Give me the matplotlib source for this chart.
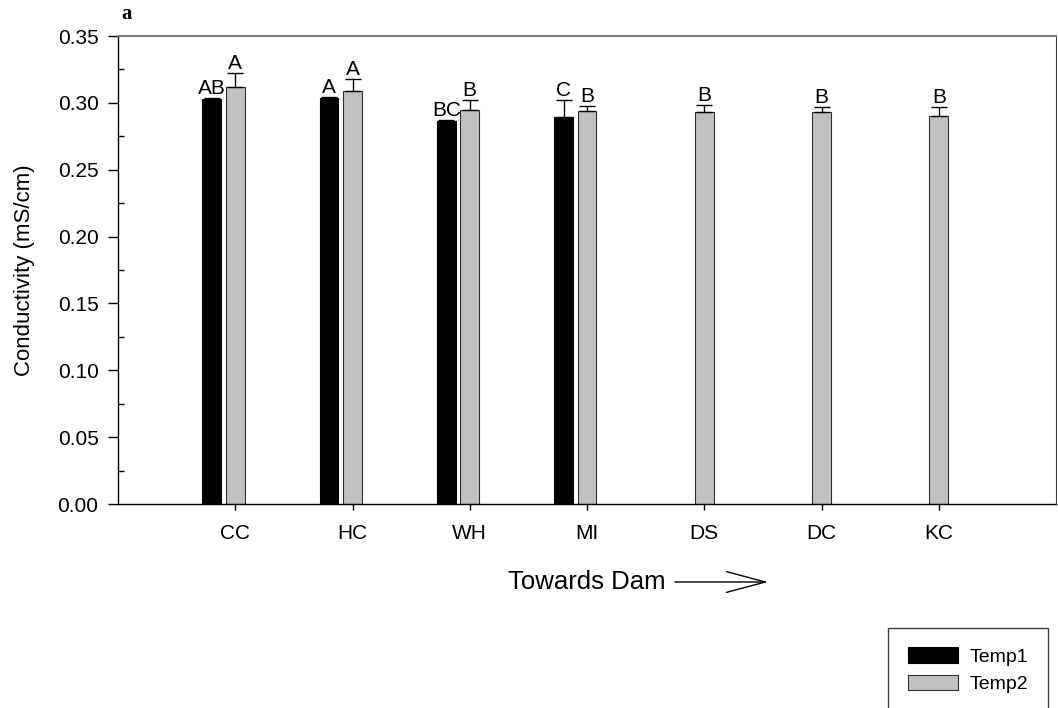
import matplotlib
matplotlib.use('Agg')
from matplotlib import pyplot as plt
from matplotlib.ticker import MultipleLocator
import numpy as np

plt.rcParams['font.family'] = ['Liberation Sans', 'DejaVu Sans']

# data
sites = ['CC', 'HC', 'WH', 'MI', 'DS', 'DC', 'KC']
temp1 = [0.3030, 0.3040, 0.2862, 0.2895]
temp1_err = [0.0010, 0.0003, 0.0013, 0.0130]
temp2 = [0.3117, 0.3092, 0.2945, 0.2937, 0.2930, 0.2933, 0.2905]
temp2_err = [0.0110, 0.0083, 0.0080, 0.0038, 0.0055, 0.0037, 0.0065]
temp1_letters = ['AB', 'A', 'BC', 'C']
temp2_letters = ['A', 'A', 'B', 'B', 'B', 'B', 'B']

W, H = 1058, 708
fig = plt.figure(figsize=(W / 100, H / 100), dpi=100)
ax = fig.add_axes([118 / W, 1 - 504 / H, (1056 - 118) / W, (504 - 36) / H])

x = np.arange(len(sites))
x1 = x[:len(temp1)] - 0.2
width = 0.16

b1 = ax.bar(x1, temp1, width, color='black', edgecolor='black', linewidth=0.8,
            label='Temp1', zorder=2)
b2 = ax.bar(x, temp2, width, color='#c0c0c0', edgecolor='#303030', linewidth=0.8,
            label='Temp2', zorder=2)
ax.errorbar(x1, temp1, yerr=[np.zeros(len(temp1)), temp1_err], fmt='none',
            ecolor='black', elinewidth=1, capsize=6, capthick=1, zorder=3)
ax.errorbar(x, temp2, yerr=[np.zeros(len(temp2)), temp2_err], fmt='none',
            ecolor='black', elinewidth=1, capsize=6, capthick=1, zorder=3)

for xi, v, e, s in zip(x1, temp1, temp1_err, temp1_letters):
    ax.annotate(s, (xi, v + e), xytext=(0, 0), textcoords='offset points',
                ha='center', va='bottom', fontsize=15)
for xi, v, e, s in zip(x, temp2, temp2_err, temp2_letters):
    ax.annotate(s, (xi, v + e), xytext=(0, 0), textcoords='offset points',
                ha='center', va='bottom', fontsize=15)

ax.set_xlim(-1, 7)
ax.set_ylim(0, 0.35)
ax.set_xticks(x)
ax.set_xticklabels(sites)
ax.yaxis.set_major_locator(MultipleLocator(0.05))
ax.yaxis.set_minor_locator(MultipleLocator(0.025))
ax.yaxis.set_major_formatter(matplotlib.ticker.FormatStrFormatter('%.2f'))
ax.tick_params(axis='y', which='major', direction='out', length=7, width=1,
               labelsize=15, pad=7)
ax.tick_params(axis='y', which='minor', direction='in', length=4, width=1)
ax.tick_params(axis='x', which='major', direction='out', length=4.5, width=1,
               labelsize=15, pad=10)
ax.tick_params(axis='x', which='minor', bottom=False)

ax.spines['top'].set_color('#7a7a7a')
ax.spines['top'].set_linewidth(1.5)
ax.spines['right'].set_color('#404040')
for s in ['left', 'bottom']:
    ax.spines[s].set_color('black')
    ax.spines[s].set_linewidth(1)

ax.set_ylabel('Conductivity (mS/cm)', fontsize=16, labelpad=16)
ax.set_xlabel('Towards Dam', fontsize=18.5, labelpad=19)

# arrow after the x label
ax.annotate('', xy=(768 / W, 1 - 582 / H), xytext=(675 / W, 1 - 582 / H),
            xycoords='figure fraction', textcoords='figure fraction',
            arrowprops=dict(arrowstyle='->,head_length=2.8,head_width=0.75',
                            lw=1, color='black', mutation_scale=10,
                            shrinkA=0, shrinkB=0))

fig.text(121 / W, 1 - 14 / H, 'a', fontsize=15, fontweight='bold',
         family='Liberation Serif', ha='left', va='center')

leg = fig.legend(handles=[b1, b2], loc='upper right',
                 bbox_to_anchor=(1048 / W, 1 - 628 / H), fontsize=14,
                 frameon=True, fancybox=False, framealpha=1, edgecolor='#404040',
                 handlelength=2.6, handleheight=0.85, borderpad=1.0,
                 borderaxespad=0, labelspacing=0.45, handletextpad=0.6)
leg.get_frame().set_linewidth(1)

fig.savefig('out.png', dpi=100)
